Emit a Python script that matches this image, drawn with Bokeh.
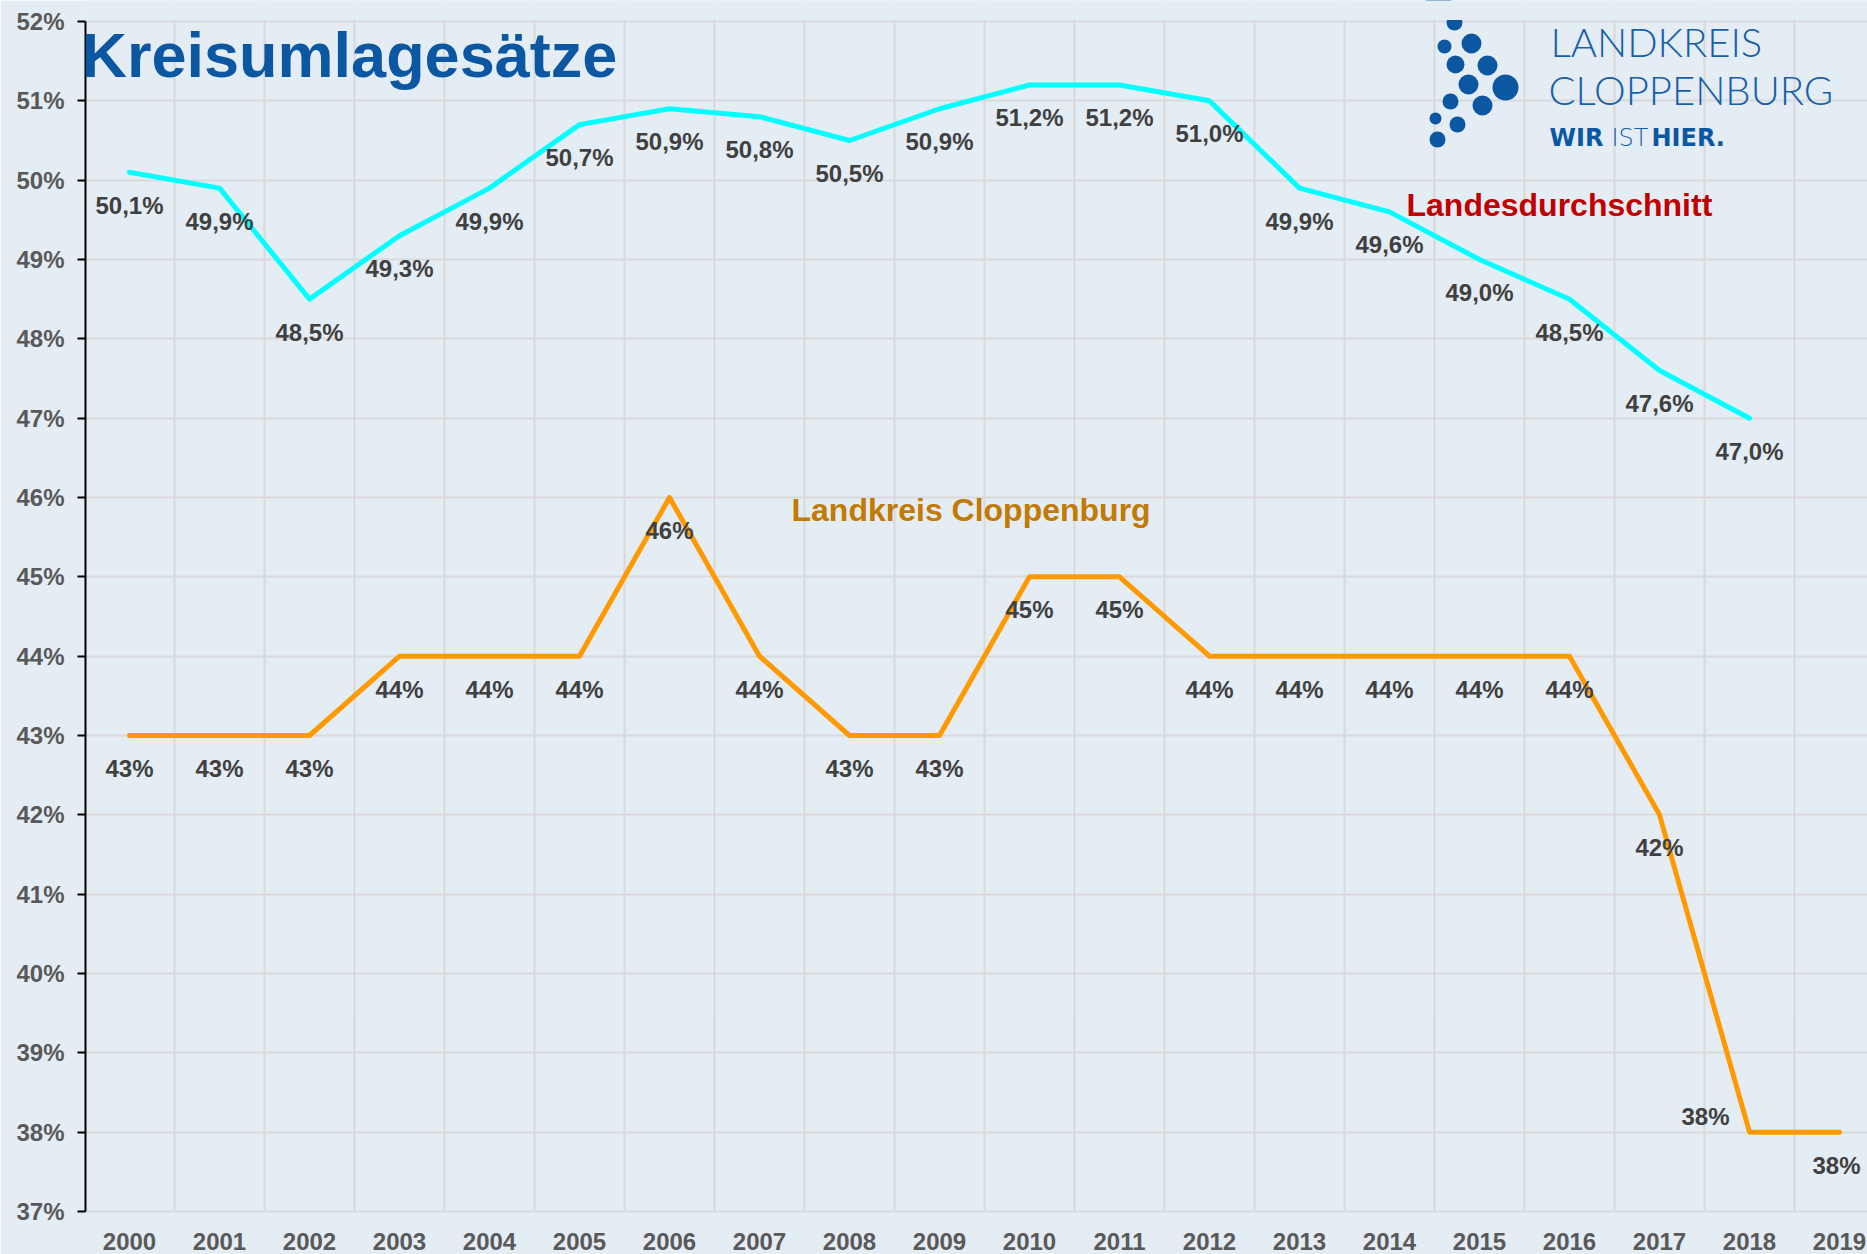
import math
from bokeh.plotting import figure
from bokeh.models import (ColumnDataSource, Range1d, FixedTicker, PrintfTickFormatter,
                          Label, BoxAnnotation)
from bokeh.core.properties import value
from bokeh.embed import file_html
from bokeh.resources import INLINE

# ---------------- data ----------------
years = [str(y) for y in range(2000, 2020)]
landesdurchschnitt = [50.1, 49.9, 48.5, 49.3, 49.9, 50.7, 50.9, 50.8, 50.5, 50.9,
                      51.2, 51.2, 51.0, 49.9, 49.6, 49.0, 48.5, 47.6, 47.0, None]
cloppenburg = [43, 43, 43, 44, 44, 44, 46, 44, 43, 43,
               45, 45, 44, 44, 44, 44, 44, 42, 38, 38]
y_ticks = list(range(37, 53))

# ---------------- geometry / style ----------------
BG = "#E4ECF4"
GRID = "#D9D9D9"
BLUE = "#0C57A2"
LABEL_C = "#404040"
TICK_C = "#595959"
FONT = "Liberation Sans"

W, H = 1867, 1254
FRAME_LEFT, FRAME_BOTTOM = 85, 1211
X0_PX, STEP_PX = 129.0, 90.0          # px of first category, px per category
Y52_PX = 21.0
PPU = (FRAME_BOTTOM - Y52_PX) / 15.0


def dx(px):
    return (px - X0_PX) / STEP_PX


def dy(py):
    return 52.0 - (py - Y52_PX) / PPU


def base(py, size):
    # empirical correction of the label baseline placement
    return dy(py - 0.4 * size)


p = figure(width=W, height=H,
           x_range=Range1d(dx(FRAME_LEFT), dx(W)),
           y_range=Range1d(37, dy(0)),
           output_backend="svg", toolbar_location=None,
           min_border_left=FRAME_LEFT, min_border_right=0,
           min_border_top=0, min_border_bottom=H - FRAME_BOTTOM)
p.background_fill_color = BG
p.border_fill_color = BG
p.outline_line_color = None

# y axis
yax = p.yaxis[0]
yax.ticker = FixedTicker(ticks=y_ticks)
yax.formatter = PrintfTickFormatter(format="%d%%")
yax.bounds = (37, 52)
yax.axis_line_color = "black"
yax.axis_line_width = 2
yax.major_tick_line_color = "black"
yax.major_tick_line_width = 2
yax.major_tick_out = 8
yax.major_tick_in = 0
yax.minor_tick_line_color = None
yax.major_label_standoff = 13
yax.major_label_text_font = FONT
yax.major_label_text_font_style = "bold"
yax.major_label_text_font_size = "24px"
yax.major_label_text_color = TICK_C

# x axis
xax = p.xaxis[0]
xax.ticker = FixedTicker(ticks=list(range(len(years))))
xax.major_label_overrides = {i: y for i, y in enumerate(years)}
xax.axis_line_color = GRID
xax.axis_line_width = 2
xax.major_tick_line_color = None
xax.minor_tick_line_color = None
xax.major_label_standoff = 15
xax.major_label_text_font = FONT
xax.major_label_text_font_style = "bold"
xax.major_label_text_font_size = "24px"
xax.major_label_text_color = TICK_C

# grids
p.xgrid.ticker = FixedTicker(ticks=[i + 0.5 for i in range(len(years) - 1)])
p.ygrid.ticker = FixedTicker(ticks=y_ticks)
for g in (p.xgrid[0], p.ygrid[0]):
    g.grid_line_color = GRID
    g.grid_line_width = 2

# hide vertical grid above the 52% line
p.add_layout(BoxAnnotation(bottom=52.02, fill_color=BG, fill_alpha=1.0,
                           line_color=None, level="glyph"))

# ---------------- series ----------------
xs = list(range(len(years)))
ld_vals = [v if v is not None else float("nan") for v in landesdurchschnitt]

p.line(xs, ld_vals, line_color="#00FFFF", line_width=5, line_join="round", line_cap="round")
p.line(xs, cloppenburg, line_color="#FF9900", line_width=5, line_join="round", line_cap="round")

# data labels
ld_x = [i for i, v in enumerate(landesdurchschnitt) if v is not None]
ld_y = [landesdurchschnitt[i] for i in ld_x]
ld_t = [("%.1f" % v).replace(".", ",") + "%" for v in ld_y]
src_ld = ColumnDataSource(dict(x=ld_x, y=ld_y, t=ld_t))
p.text("x", "y", text="t", source=src_ld, y_offset=33,
       text_align="center", text_baseline="middle",
       text_font=value(FONT), text_font_style="bold", text_font_size="24px",
       text_color=LABEL_C)

cl_t = ["%d%%" % v for v in cloppenburg]
cl_xoff = [0] * len(years)
cl_yoff = [33] * len(years)
cl_xoff[18] = -44
cl_yoff[18] = -16
cl_xoff[19] = -3
src_cl = ColumnDataSource(dict(x=xs, y=cloppenburg, t=cl_t, xo=cl_xoff, yo=cl_yoff))
p.text("x", "y", text="t", source=src_cl, x_offset="xo", y_offset="yo",
       text_align="center", text_baseline="middle",
       text_font=value(FONT), text_font_style="bold", text_font_size="24px",
       text_color=LABEL_C)

# series names
p.add_layout(Label(x=dx(1406), y=base(217, 32), text="Landesdurchschnitt",
                   text_font=FONT, text_font_style="bold", text_font_size="32px",
                   text_color="#C00000", text_baseline="alphabetic", text_align="left"))
p.add_layout(Label(x=dx(791), y=base(522, 32), text="Landkreis Cloppenburg",
                   text_font=FONT, text_font_style="bold", text_font_size="32px",
                   text_color="#C27A00", text_baseline="alphabetic", text_align="left"))

# title
p.add_layout(Label(x=dx(81), y=base(80, 63), text="Kreisumlagesätze",
                   text_font=FONT, text_font_style="bold", text_font_size="63px",
                   text_color=BLUE, text_baseline="alphabetic", text_align="left"))

# ---------------- logo (decoration) ----------------
logo_dot_px = [(1438, 2, 13), (1454, 22, 8), (1471, 43, 10), (1444, 46, 7),
               (1455, 64, 9), (1487, 65, 10), (1468, 84, 10), (1505, 87, 13),
               (1450, 101, 8), (1482, 105, 10), (1435, 118, 6), (1457, 124, 8),
               (1437, 139, 8)]
p.scatter([dx(a) for a, b, r in logo_dot_px], [dy(b) for a, b, r in logo_dot_px],
          size=[2 * r for a, b, r in logo_dot_px], marker="circle",
          fill_color=BLUE, line_color=None)

LIGHT = "'Lato Light', 'DejaVu Sans Light', Lato"
p.add_layout(Label(x=dx(1550), y=base(57, 40), text="LANDKREIS", text_font=LIGHT,
                   text_font_size="40px", text_color="#1560AC",
                   text_baseline="alphabetic", text_align="left"))
p.add_layout(Label(x=dx(1548), y=base(105, 40), text="CLOPPENBURG", text_font=LIGHT,
                   text_font_size="40px", text_color="#1560AC",
                   text_baseline="alphabetic", text_align="left"))
p.add_layout(Label(x=dx(1549), y=base(147, 24), text="WIR", text_font="DejaVu Sans",
                   text_font_style="bold", text_font_size="24px", text_color=BLUE,
                   text_baseline="alphabetic", text_align="left"))
p.add_layout(Label(x=dx(1611), y=base(147, 24), text="IST",
                   text_font="'DejaVu Sans Light', 'Lato Light', Lato",
                   text_font_size="24px", text_color="#1560AC",
                   text_baseline="alphabetic", text_align="left"))
p.add_layout(Label(x=dx(1651), y=base(147, 24), text="HIER.", text_font="DejaVu Sans",
                   text_font_style="bold", text_font_size="24px", text_color=BLUE,
                   text_baseline="alphabetic", text_align="left"))

open("out.html", "w").write(file_html(p, INLINE))
